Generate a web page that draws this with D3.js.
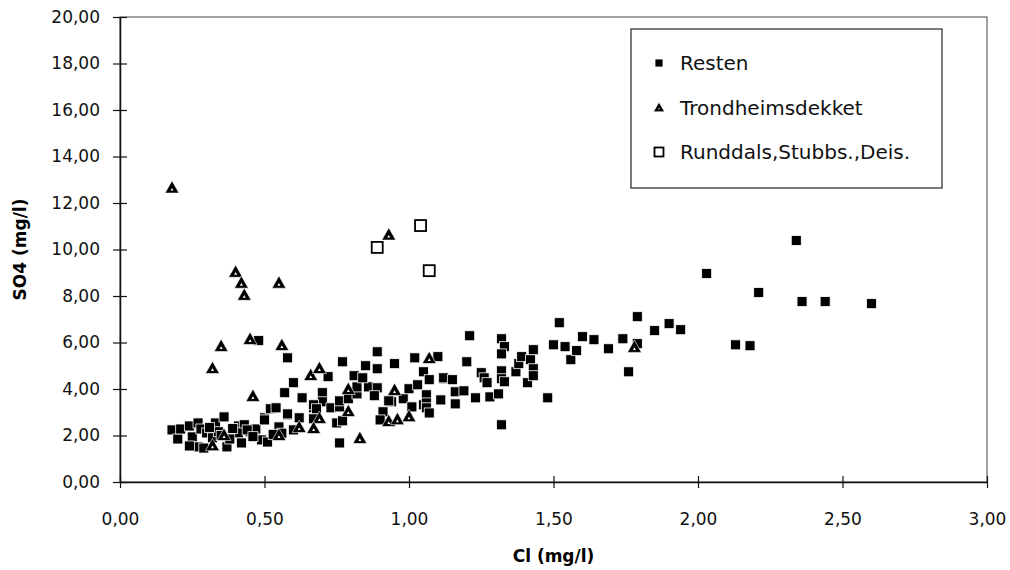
<!DOCTYPE html>
<html>
<head>
<meta charset="utf-8">
<script src="https://cdn.jsdelivr.net/npm/d3@7"></script>
<style>
  body { margin: 0; background: #fff; }
  svg { display: block; font-family: "DejaVu Sans", sans-serif; }
</style>
</head>
<body>
<svg id="chart" width="1010" height="570"></svg>
<script>
// Cl (x) and SO4 (y), mg/l
const resten = [
  [0.18,2.24],[0.20,1.85],[0.21,2.28],[0.24,2.41],[0.27,2.54],[0.25,1.94],[0.28,2.28],[0.27,1.51],
  [0.30,2.11],[0.33,2.54],[0.36,2.80],[0.32,1.90],[0.29,1.46],[0.34,2.16],[0.37,1.51],[0.41,2.41],
  [0.43,2.46],[0.41,2.11],[0.45,2.16],[0.42,1.68],[0.47,2.28],[0.50,2.76],[0.52,3.15],[0.54,3.19],
  [0.49,1.81],[0.51,1.72],[0.55,2.37],[0.58,2.89],[0.60,2.24],[0.62,2.76],[0.44,2.24],[0.24,1.55],
  [0.39,2.30],[0.35,2.00],[0.46,1.95],[0.56,2.10],[0.31,2.35],[0.38,1.85],[0.53,2.05],
  [0.48,6.08],[0.58,5.34],[0.60,4.27],[0.57,3.84],[0.63,3.62],[0.58,2.93],[0.50,2.67],[0.72,4.53],
  [0.70,3.84],[0.76,1.68],[0.77,5.17],[0.67,2.72],[0.75,2.54],[0.70,3.45],[0.67,3.19],[0.67,3.32],
  [0.68,3.15],[0.73,3.19],[0.76,3.23],[0.77,2.63],[0.76,3.49],[0.79,3.58],[0.82,3.79],[0.82,4.09],
  [0.86,4.09],[0.89,4.05],[0.81,4.57],[0.84,4.48],[0.85,5.00],[0.89,4.87],[0.89,5.60],[0.95,5.09],
  [1.02,5.34],[1.10,5.39],[1.05,4.74],[1.07,4.40],[1.12,4.44],[0.88,3.71],[0.94,3.45],[0.93,3.49],
  [0.98,3.58],[1.00,4.01],[1.03,4.18],[1.06,3.71],[1.06,3.75],[1.05,3.32],[1.06,3.40],[1.06,3.19],
  [1.07,2.97],[1.01,3.23],[1.11,3.53],[0.91,3.02],[0.90,2.67],
  [1.12,4.48],[1.15,4.40],[1.16,3.88],[1.19,3.92],[1.16,3.36],[1.23,3.62],[1.28,3.66],[1.31,3.79],
  [1.32,2.46],[1.25,4.70],[1.26,4.48],[1.27,4.27],[1.20,5.17],[1.21,6.29],[1.32,6.16],[1.33,5.82],
  [1.32,5.51],[1.32,4.78],[1.32,4.44],[1.33,4.31],[1.37,4.74],[1.38,5.09],[1.39,5.39],[1.41,4.27],
  [1.42,5.26],[1.43,5.69],[1.43,4.87],[1.43,4.57],[1.48,3.62],[1.50,5.90],[1.52,6.85],[1.54,5.82],
  [1.56,5.26],[1.58,5.65],[1.60,6.25],[1.64,6.12],[1.69,5.73],[1.74,6.16],[1.76,4.74],[1.79,7.11],
  [1.79,5.95],[1.85,6.51],[1.90,6.81],[1.94,6.55],[2.03,8.97],[2.13,5.90],[2.18,5.86],[2.21,8.15],
  [2.34,10.39],[2.36,7.76],[2.44,7.76],[2.60,7.67]
];

const trondheim = [
  [0.18,12.67],[0.40,9.05],[0.42,8.58],[0.43,8.06],[0.55,8.58],[0.93,10.65],[0.35,5.86],[0.32,4.91],
  [0.45,6.16],[0.56,5.90],[0.46,3.71],[0.66,4.61],[0.69,4.91],[0.79,4.01],[0.36,2.03],[0.32,1.59],
  [0.55,2.03],[0.62,2.37],[1.07,5.34],[0.69,2.76],[0.67,2.33],[0.79,3.06],[0.83,1.90],[0.95,3.97],
  [0.93,2.63],[0.96,2.71],[1.00,2.84],[1.78,5.82]
];

const runddals = [[0.89,10.09],[1.04,11.03],[1.07,9.09]];

const seriesNames = ["Resten", "Trondheimsdekket", "Runddals,Stubbs.,Deis."];
const xTicks = [0, 0.5, 1, 1.5, 2, 2.5, 3];
const yTicks = [0, 2, 4, 6, 8, 10, 12, 14, 16, 18, 20];

const svg = d3.select("#chart");
const plotL = 120, plotR = 987, plotT = 17, plotB = 482;

const x = d3.scaleLinear().domain([0, 3]).range([plotL, plotR]);
const y = d3.scaleLinear().domain([0, 20]).range([plotB, plotT]);
const fmt = v => d3.format(".2f")(v).replace(".", ",");

// thin frame round the plot area
svg.append("rect")
  .attr("x", plotL).attr("y", plotT)
  .attr("width", plotR - plotL).attr("height", plotB - plotT)
  .attr("fill", "none").attr("stroke", "#444").attr("stroke-width", 1);

// axes, ticks cross the line
const yAxis = svg.append("g")
  .attr("transform", `translate(${plotL},0)`)
  .call(d3.axisLeft(y).tickValues(yTicks).tickFormat(fmt).tickSizeInner(7).tickSizeOuter(0).tickPadding(13));
yAxis.selectAll(".tick line").attr("x2", 7).attr("x1", -7);
const xAxis = svg.append("g")
  .attr("transform", `translate(0,${plotB})`)
  .call(d3.axisBottom(x).tickValues(xTicks).tickFormat(fmt).tickSizeInner(6).tickSizeOuter(0).tickPadding(25));
xAxis.selectAll(".tick line").attr("y1", -6).attr("y2", 6);
svg.selectAll(".domain").attr("stroke", "#111").attr("stroke-width", 1.5);
svg.selectAll(".tick line").attr("stroke", "#111").attr("stroke-width", 1.2);
svg.selectAll(".tick text").attr("font-size", 17).attr("fill", "#111")
  .attr("font-family", "DejaVu Sans, sans-serif");

// axis titles
svg.append("text")
  .attr("x", (plotL + plotR) / 2).attr("y", 562)
  .attr("text-anchor", "middle").attr("font-size", 17).attr("font-weight", "bold")
  .text("Cl (mg/l)");
svg.append("text")
  .attr("transform", `translate(26,${(plotT + plotB) / 2}) rotate(-90)`)
  .attr("text-anchor", "middle").attr("font-size", 17).attr("font-weight", "bold")
  .text("SO4 (mg/l)");

// marker drawers
function filledSquare(g, s) {
  g.append("rect").attr("x", -s / 2).attr("y", -s / 2).attr("width", s).attr("height", s)
    .attr("fill", "#000").attr("stroke", "#fff").attr("stroke-width", 0.8);
}
function hatchTriangle(g, s) {
  const h = s * 0.95;
  g.append("path").attr("d", `M0,${-h / 2 - 1}L${s / 2 + 1},${h / 2}L${-s / 2 - 1},${h / 2}Z`)
    .attr("fill", "#000").attr("stroke", "#fff").attr("stroke-width", 0.6);
  // tiny white hole in the middle
  g.append("path").attr("d", `M0,0.5L${s / 8},${h / 2 - 2.5}L${-s / 8},${h / 2 - 2.5}Z`)
    .attr("fill", "#fff");
}
function openSquare(g, s) {
  g.append("rect").attr("x", -s / 2).attr("y", -s / 2).attr("width", s).attr("height", s)
    .attr("fill", "#fff").attr("stroke", "#000").attr("stroke-width", 1.8);
}

const plot = svg.append("g");
plot.selectAll(".resten").data(resten).join("g")
  .attr("class", "resten")
  .attr("transform", d => `translate(${x(d[0])},${y(d[1])})`)
  .each(function () { filledSquare(d3.select(this), 10); });
plot.selectAll(".trond").data(trondheim).join("g")
  .attr("class", "trond")
  .attr("transform", d => `translate(${x(d[0])},${y(d[1])})`)
  .each(function () { hatchTriangle(d3.select(this), 12); });
plot.selectAll(".rund").data(runddals).join("g")
  .attr("class", "rund")
  .attr("transform", d => `translate(${x(d[0])},${y(d[1])})`)
  .each(function () { openSquare(d3.select(this), 11); });

// legend
const legend = svg.append("g");
legend.append("rect")
  .attr("x", 631).attr("y", 29).attr("width", 311).attr("height", 159)
  .attr("fill", "#fff").attr("stroke", "#222").attr("stroke-width", 1.2);
const drawers = [
  g => filledSquare(g, 8),
  g => hatchTriangle(g, 9),
  g => openSquare(g, 9)
];
seriesNames.forEach((name, i) => {
  const cy = 63 + i * 44.5;
  const g = legend.append("g").attr("transform", `translate(659,${cy})`);
  drawers[i](g);
  legend.append("text")
    .attr("x", 680).attr("y", cy + 7)
    .attr("font-size", 20).attr("fill", "#111")
    .text(name);
});
</script>
</body>
</html>
